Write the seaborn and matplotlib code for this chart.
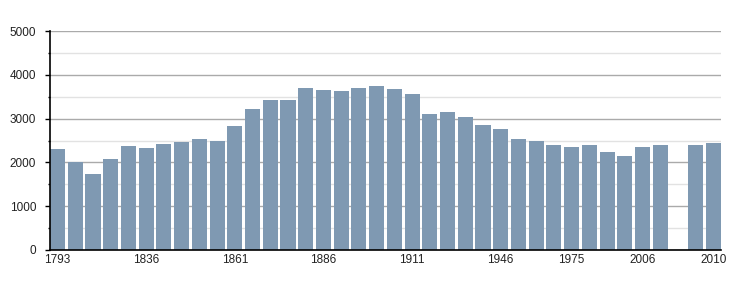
import matplotlib
matplotlib.use("Agg")
import matplotlib.pyplot as plt
from matplotlib.ticker import MultipleLocator
import seaborn as sns
import pandas as pd
import numpy as np

years = ["1793", "1800", "1806", "1821", "1831", "1836", "1841", "1846", "1851", "1856",
         "1861", "1866", "1872", "1876", "1881", "1886", "1891", "1896", "1901", "1906",
         "1911", "1921", "1926", "1931", "1936", "1946", "1954", "1962", "1968", "1975",
         "1982", "1990", "1999", "2006", "2007", "2008", "2009", "2010"]
population = [2300, 2005, 1735, 2075, 2370, 2325, 2415, 2460, 2530, 2485,
              2825, 3215, 3420, 3420, 3695, 3650, 3625, 3695, 3740, 3670,
              3555, 3100, 3145, 3030, 2850, 2760, 2530, 2485, 2395, 2350,
              2395, 2235, 2145, 2350, 2395, np.nan, 2395, 2440]
label_years = ["1793", "1836", "1861", "1886", "1911", "1946", "1975", "2006", "2010"]

df = pd.DataFrame({"year": years, "pop": population})

sns.set_style("white")
plt.rcParams["font.family"] = ["Liberation Sans", "DejaVu Sans"]

fig = plt.figure(figsize=(7.5, 3.0), dpi=100)
ax = fig.add_axes([50 / 750, 1 - 250 / 300, 671 / 750, 219 / 300])

sns.barplot(data=df, x="year", y="pop", order=years, color="#7f99b2",
            saturation=1, width=0.85, ax=ax, zorder=3, errorbar=None,
            linewidth=0)

ax.set_xlim(-0.425, len(years) - 1 + 0.425)
ax.set_ylim(0, 5000)
ax.yaxis.set_major_locator(MultipleLocator(1000))
ax.yaxis.set_minor_locator(MultipleLocator(500))
ax.grid(axis="y", which="major", color="#aaaaaa", linewidth=1.0, zorder=0)
ax.grid(axis="y", which="minor", color="#e2e2e2", linewidth=1.0, zorder=0)
ax.set_axisbelow(True)

pos = [years.index(y) for y in label_years]
ax.set_xticks(pos)
ax.set_xticklabels(label_years)
ax.tick_params(axis="x", length=0, pad=3, labelsize=8.5, labelcolor="#222222")
ax.tick_params(axis="y", which="major", length=3.6, width=1, color="black",
               labelsize=8.5, labelcolor="#222222", pad=6.4, left=True)
ax.tick_params(axis="y", which="minor", length=1.6, width=1, color="black", left=True)

for s in ["top", "right"]:
    ax.spines[s].set_visible(False)
for s in ["left", "bottom"]:
    ax.spines[s].set_color("black")
    ax.spines[s].set_linewidth(1.2)
    ax.spines[s].set_zorder(5)

ax.set_xlabel("")
ax.set_ylabel("")

fig.savefig("out.png", dpi=100)
